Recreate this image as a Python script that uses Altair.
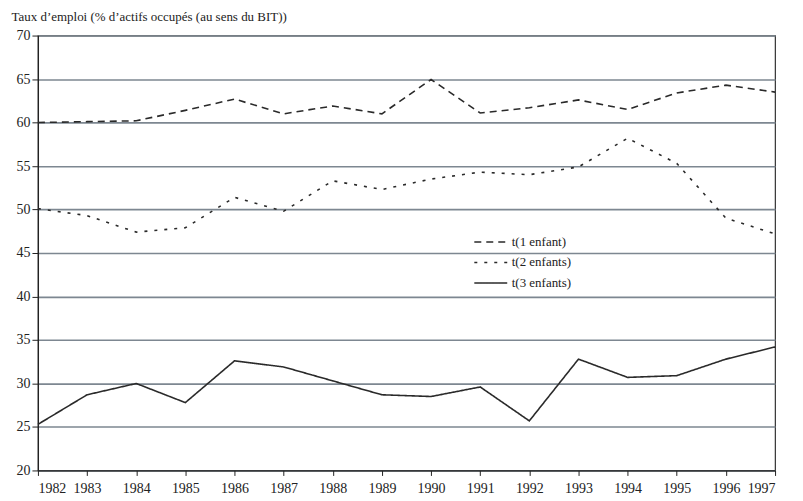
import altair as alt
import pandas as pd

years = list(range(1982, 1998))
t1 = [60.0, 60.1, 60.2, 61.4, 62.7, 61.0, 61.9, 61.0, 64.95, 61.1, 61.7, 62.6, 61.5, 63.4, 64.3, 63.5]
t2 = [50.1, 49.3, 47.4, 47.9, 51.4, 49.8, 53.3, 52.3, 53.5, 54.3, 54.0, 54.9, 58.2, 55.3, 49.0, 47.2]
t3 = [25.3, 28.7, 30.0, 27.8, 32.6, 31.9, 30.3, 28.7, 28.5, 29.6, 25.7, 32.8, 30.7, 30.9, 32.8, 34.2]
series = ["t(1 enfant)", "t(2 enfants)", "t(3 enfants)"]
y_ticks = [20, 25, 30, 35, 40, 45, 50, 55, 60, 65, 70]

rows = []
for name, vals in zip(series, [t1, t2, t3]):
    for yr, v in zip(years, vals):
        rows.append({"annee": yr, "taux": v, "serie": name})
df = pd.DataFrame(rows)

FONT = "Liberation Serif"

chart = alt.Chart(df).mark_line(color="#2a2a2a", strokeWidth=1.6).encode(
    x=alt.X("annee:Q",
            scale=alt.Scale(domain=[1982, 1997], nice=False, zero=False),
            axis=alt.Axis(values=years, format="d", title=None, grid=False,
                          labelFont=FONT, labelFontSize=14, labelColor="#222",
                          domainColor="#222", tickColor="#222", tickSize=5,
                          labelPadding=6, domainWidth=1.2)),
    y=alt.Y("taux:Q",
            scale=alt.Scale(domain=[20, 70], nice=False, zero=False),
            axis=alt.Axis(values=y_ticks, title="Taux d\u2019emploi (% d\u2019actifs occupés (au sens du BIT))",
                          titleAngle=0, titleAlign="left", titleBaseline="bottom",
                          titleX=-27, titleY=-12, titleFont=FONT, titleFontSize=13,
                          titleFontWeight="normal", titleColor="#222",
                          labelFont=FONT, labelFontSize=14, labelColor="#222",
                          domainColor="#222", tickColor="#222", tickSize=6,
                          labelPadding=2, grid=True, gridColor="#7d8791",
                          gridWidth=1.6, domainWidth=1.2)),
    strokeDash=alt.StrokeDash("serie:N",
            scale=alt.Scale(domain=series, range=[[7, 5], [3, 7], [1, 0]]),
            legend=alt.Legend(title=None, orient="none", legendX=443, legendY=196,
                              symbolType="M-1.65,0L1.65,0", symbolStrokeWidth=1.6,
                              symbolStrokeColor="#2a2a2a", symbolFillColor="transparent",
                              symbolSize=400,
                              labelFont=FONT, labelFontSize=13, labelColor="#222",
                              labelOffset=10, rowPadding=2.5, symbolOffset=0)),
).properties(
    width=739, height=436,
    autosize=alt.AutoSizeParams(type="none"),
    padding={"left": 30, "top": 27, "right": 20, "bottom": 30},
).configure_view(stroke="#333", strokeWidth=1.2)

chart.save("out.html", embed_options={"renderer": "svg", "actions": False})
